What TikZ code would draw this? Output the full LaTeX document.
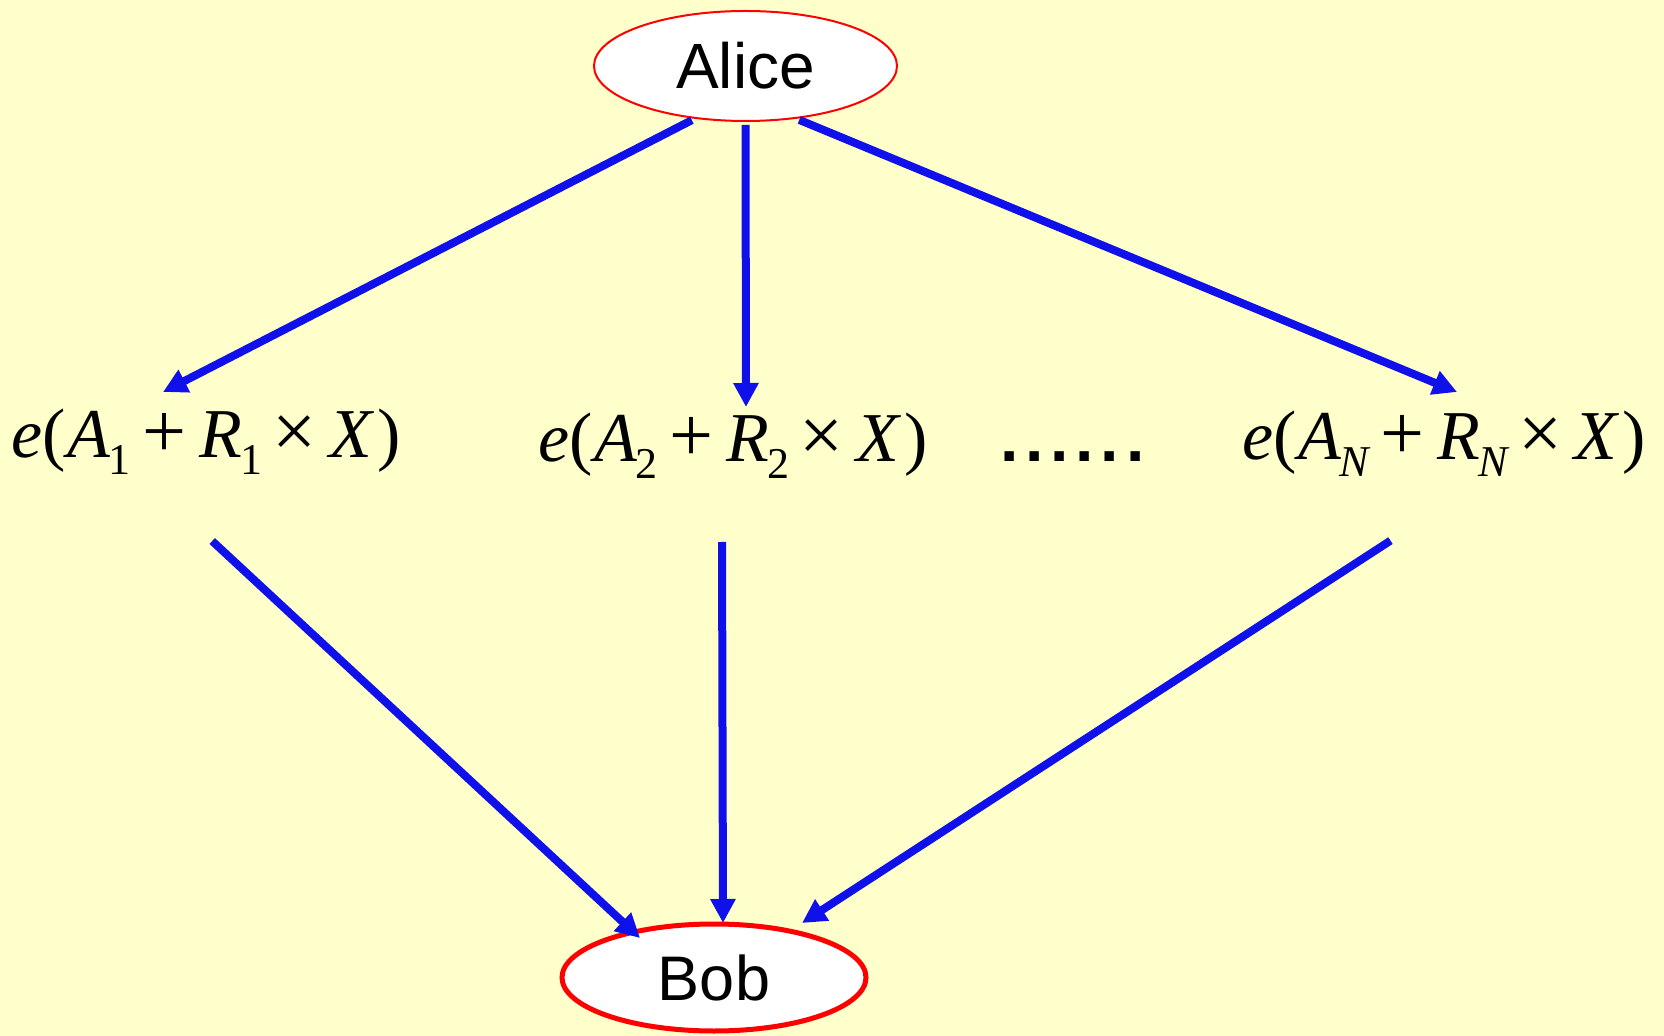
\documentclass[tikz,border=0pt]{standalone}
\usepackage{fontspec}
\setmainfont{Liberation Serif}
\newfontfamily\arialf{Liberation Sans}
\newfontfamily\arialbf{Liberation Sans Bold}
\usetikzlibrary{shapes.geometric,arrows.meta}
\definecolor{bgyellow}{RGB}{255,255,204}
\definecolor{arblue}{RGB}{16,16,235}
\newcommand\sbx[1]{\raisebox{-8.5pt}{\fontsize{22}{22}\selectfont #1}}
\newcommand\fml[1]{{\itshape e}(\kern1pt{\itshape A}\kern-1pt\sbx{#1}\hspace{6pt}{\fontsize{39}{39}\selectfont+}\hspace{6.5pt}{\itshape R}\kern-1pt\sbx{#1}\hspace{5pt}{\fontsize{39}{39}\selectfont\texttimes}\hspace{6.5pt}{\itshape X}\hspace{2.5pt})}
\begin{document}
\begin{tikzpicture}[x=0.5pt,y=-0.5pt,
  party/.style={ellipse, draw=red, fill=white, inner sep=0pt},
  formula/.style={anchor=base west, inner sep=0pt, font=\fontsize{35}{35}\selectfont},
  arr/.style={draw=arblue, line width=4pt, shorten <=1.5pt, -{Triangle[length=12pt,width=12pt]}}]
\fill[bgyellow] (0,0) rectangle (1664,1036);
\useasboundingbox (0,0) rectangle (1664,1036);
\node[party, line width=1pt, minimum width=151.5pt, minimum height=55pt,
      font=\arialf\fontsize{32}{32}\selectfont] (alice) at (745.5,66) {Alice};
\node[party, line width=2.5pt, minimum width=152pt, minimum height=53.5pt,
      font=\arialf\fontsize{31.5}{31.5}\selectfont] (bob) at (714,977.5) {Bob};
\node[formula] (f1) at (11,458) {\fml{1}};
\node[formula] (f2) at (538,462) {\fml{2}};
\node[formula] (f3) at (1242,460) {\fml{\itshape N}};
\node[anchor=base west, inner sep=0pt, font=\arialbf\fontsize{33}{33}\selectfont] (dots) at (1000,462)
  {.\kern3.4pt.\kern3.4pt.\kern3.4pt.\kern3.4pt.\kern3.4pt.};
\coordinate (t1) at (163,392);
\coordinate (t2) at (746,407);
\coordinate (t3) at (1457,392);
\coordinate (s1) at (210,539);
\coordinate (s2) at (722,539);
\coordinate (s3) at (1393,539);
\coordinate (b1) at (640,938);
\coordinate (b2) at (723,923);
\coordinate (b3) at (802,923);
\draw[arr] (alice.-134) -- (t1);
\draw[arr] (alice.south) -- (t2);
\draw[arr] (alice.-46) -- (t3);
\draw[arr] (s1) -- (b1);
\draw[arr] (s2) -- (b2);
\draw[arr] (s3) -- (b3);
\end{tikzpicture}
\end{document}
